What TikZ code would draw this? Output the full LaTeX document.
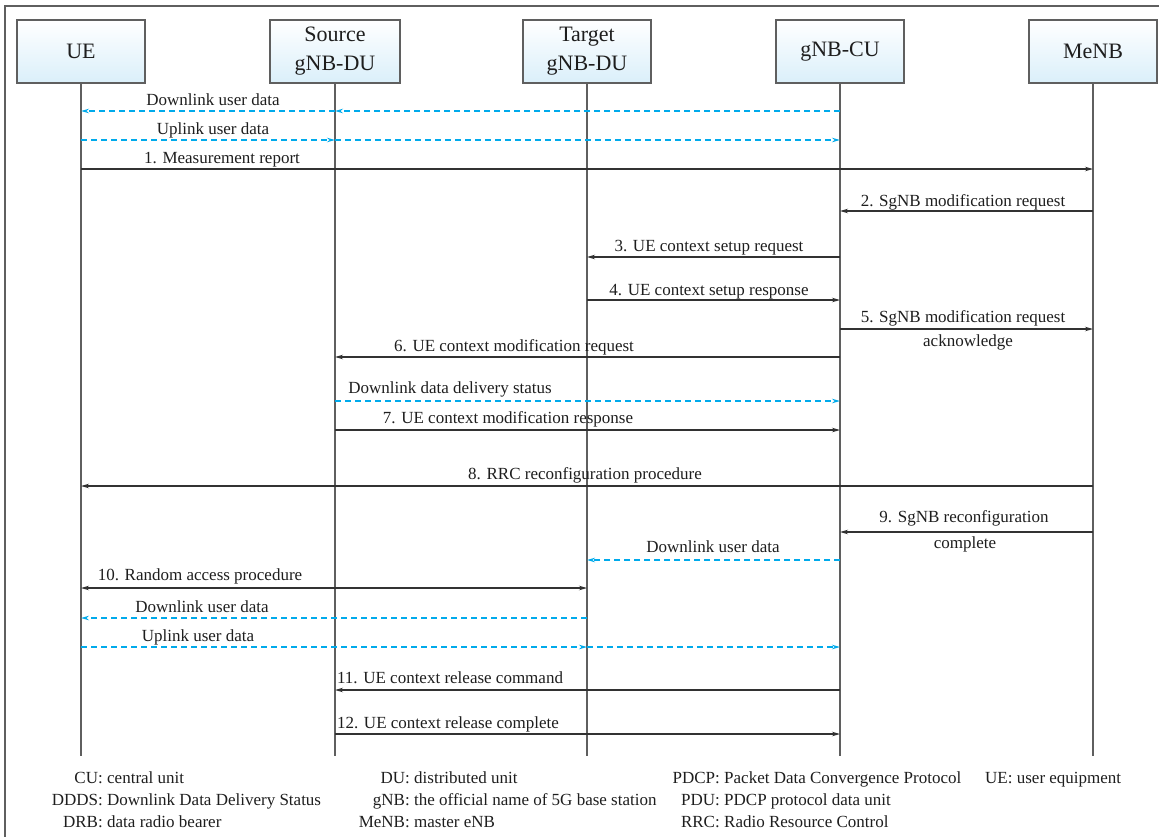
\documentclass[tikz,border=0pt]{standalone}
\usepackage{fontspec}
\setmainfont{Liberation Serif}
\newfontfamily\diagfont{Liberation Serif}
\usetikzlibrary{arrows.meta}
\definecolor{flowblue}{RGB}{0,170,235}
\definecolor{linegray}{RGB}{50,50,50}
\definecolor{lifegray}{RGB}{95,95,95}
\definecolor{headfill}{RGB}{218,239,250}
\definecolor{txt}{RGB}{30,30,30}

\begin{document}
\begin{tikzpicture}[x=1pt,y=-1pt,
  tip/.tip={Stealth[length=8pt,width=4.5pt]},
  head/.style={draw=lifegray, line width=1.2pt, top color=white, bottom color=headfill,
    minimum width=128pt, minimum height=63pt, align=center, inner sep=0pt,
    font=\diagfont\fontsize{22}{29}\selectfont, text=txt},
  lifeline/.style={draw=lifegray, line width=1.2pt},
  msg/.style={draw=linegray, line width=1.1pt, -tip},
  dmsg/.style={draw=linegray, line width=1.1pt, tip-tip},
  flow/.style={draw=flowblue, line width=1.3pt, dash pattern=on 6pt off 4pt, -tip},
  lbl/.style={anchor=base, inner sep=0pt, font=\diagfont\fontsize{17}{20}\selectfont, text=txt},
  abbr/.style={anchor=base east, inner sep=0pt, font=\diagfont\fontsize{17}{20}\selectfont, text=txt},
  expl/.style={anchor=base west, inner sep=0pt, font=\diagfont\fontsize{17}{20}\selectfont, text=txt},
]
\useasboundingbox (0,0) rectangle (1159,836);

% outer frame
\draw[lifegray, line width=1.5pt] (5,6) rectangle (1175,860);

% entities
\node[head] (ue)   at (81,51.5)   {UE};
\node[head, minimum width=130pt] (src) at (335,51.5) {Source\\gNB-DU};
\node[head] (tgt)  at (587,51.5)  {Target\\gNB-DU};
\node[head] (cu)   at (840,51.5)  {gNB-CU};
\node[head] (menb) at (1093,51.5) {MeNB};

% lifelines
\coordinate (bottom) at (0,756);
\foreach \e in {ue,src,tgt,cu,menb}
  \draw[lifeline] (\e.south) -- (\e |- bottom);

% message rows
\foreach \n/\y in {1/111,2/140,3/169,4/211,5/257,6/300,7/329,8/357,9/401,
                   10/430,11/486,12/532,13/560,14/588,15/618,16/647,17/690,18/734}
  \coordinate (r\n) at (0,\y);

% data flows and signalling
\draw[flow] (cu |- r1) -- (src |- r1);
\draw[flow] (src |- r1) -- (ue |- r1);
\node[lbl] (l1) at (213,105) {Downlink user data};

\draw[flow] (ue |- r2) -- (src |- r2);
\draw[flow] (src |- r2) -- (cu |- r2);
\node[lbl] (l2) at (213,134) {Uplink user data};

\draw[msg] (ue |- r3) -- (menb |- r3);
\node[lbl] (l3) at (222,163) {1. Measurement report};

\draw[msg] (menb |- r4) -- (cu |- r4);
\node[lbl] (l4) at (963,206) {2. SgNB modification request};

\draw[msg] (cu |- r5) -- (tgt |- r5);
\node[lbl] (l5) at (709,251) {3. UE context setup request};

\draw[msg] (tgt |- r6) -- (cu |- r6);
\node[lbl] (l6) at (709,295) {4. UE context setup response};

\draw[msg] (cu |- r7) -- (menb |- r7);
\node[lbl] (l7) at (963,322) {5. SgNB modification request};
\node[lbl] (l7b) at (968,346) {acknowledge};

\draw[msg] (cu |- r8) -- (src |- r8);
\node[lbl] (l8) at (514,351) {6. UE context modification request};

\draw[flow] (src |- r9) -- (cu |- r9);
\node[lbl] (l9) at (450,393) {Downlink data delivery status};

\draw[msg] (src |- r10) -- (cu |- r10);
\node[lbl] (l10) at (508,423) {7. UE context modification response};

\draw[msg] (menb |- r11) -- (ue |- r11);
\node[lbl] (l11) at (585,479) {8. RRC reconfiguration procedure};

\draw[msg] (menb |- r12) -- (cu |- r12);
\node[lbl] (l12) at (964,522) {9. SgNB reconfiguration};
\node[lbl] (l12b) at (965,548) {complete};

\draw[flow] (cu |- r13) -- (tgt |- r13);
\node[lbl] (l13) at (713,552) {Downlink user data};

\draw[dmsg] (ue |- r14) -- (tgt |- r14);
\node[lbl] (l14) at (200,580) {10. Random access procedure};

\draw[flow] (tgt |- r15) -- (ue |- r15);
\node[lbl] (l15) at (202,612) {Downlink user data};

\draw[flow] (ue |- r16) -- (tgt |- r16);
\node[lbl] (l16) at (198,641) {Uplink user data};
\draw[flow] (tgt |- r16) -- (cu |- r16);

\draw[msg] (cu |- r17) -- (src |- r17);
\node[lbl] (l17) at (450,683) {11. UE context release command};

\draw[msg] (src |- r18) -- (cu |- r18);
\node[lbl] (l18) at (448,728) {12. UE context release complete};

% abbreviations, aligned on the colon in each column
\node[abbr] (a1) at (103,783.5) {CU:};
\node[expl] (e1) at (107,783.5) {central unit};
\node[abbr] (a2) at (103,805.5) {DDDS:};
\node[expl] (e2) at (107,805.5) {Downlink Data Delivery Status};
\node[abbr] (a3) at (103,827.5) {DRB:};
\node[expl] (e3) at (107,827.5) {data radio bearer};

\node[abbr] (a4) at (410,783.5) {DU:};
\node[expl] (e4) at (414,783.5) {distributed unit};
\node[abbr] (a5) at (410,805.5) {gNB:};
\node[expl] (e5) at (414,805.5) {the official name of 5G base station};
\node[abbr] (a6) at (410,827.5) {MeNB:};
\node[expl] (e6) at (414,827.5) {master eNB};

\node[abbr] (a7) at (720,783.5) {PDCP:};
\node[expl] (e7) at (724,783.5) {Packet Data Convergence Protocol};
\node[abbr] (a8) at (720,805.5) {PDU:};
\node[expl] (e8) at (724,805.5) {PDCP protocol data unit};
\node[abbr] (a9) at (720,827.5) {RRC:};
\node[expl] (e9) at (724,827.5) {Radio Resource Control};

\node[expl] (a10) at (985,783.5) {UE: user equipment};
\end{tikzpicture}
\end{document}
